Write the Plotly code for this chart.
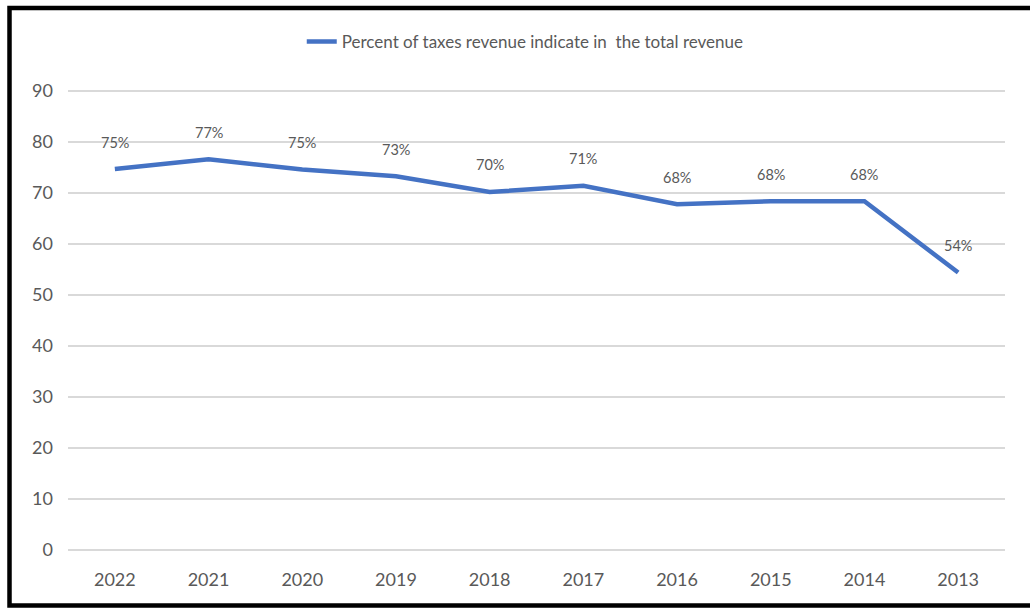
import plotly.graph_objects as go

# Share of tax revenue in total revenue, by year
years = ["2022", "2021", "2020", "2019", "2018", "2017", "2016", "2015", "2014", "2013"]
tax_share = [74.7, 76.6, 74.6, 73.3, 70.2, 71.4, 67.8, 68.4, 68.4, 54.4]
y_ticks = [0, 10, 20, 30, 40, 50, 60, 70, 80, 90]

series_name = "Percent of taxes revenue indicate in  the total revenue"
font_family = "Lato, 'Open Sans', sans-serif"
grey = "#595959"
blue = "#4472C4"

fig = go.Figure()
fig.add_trace(go.Scatter(
    x=years,
    y=tax_share,
    mode="lines",
    name=series_name,
    line=dict(color=blue, width=4.5),
    hoverinfo="skip",
))

# Value labels above each point (category axis: x given as index)
for i, v in enumerate(tax_share):
    fig.add_annotation(
        x=i, y=v, text=f"{round(v)}%", showarrow=False,
        yshift=27, font=dict(family=font_family, size=14.5, color=grey),
    )

W, H = 1030, 608
ml, mr, mt, mb = 68, 25, 90, 57
pw, ph = W - ml - mr, H - mt - mb


def px_x(px):
    return (px - ml) / pw


def px_y(py):
    return (H - mb - py) / ph


# Outer frame around the chart
fig.add_shape(
    type="rect", xref="paper", yref="paper",
    x0=px_x(9.5), x1=px_x(1045), y0=px_y(605.5), y1=px_y(8),
    line=dict(color="black", width=4.5), fillcolor="rgba(0,0,0,0)", layer="above",
)

fig.update_layout(
    width=W, height=H,
    margin=dict(l=ml, r=mr, t=mt, b=mb),
    paper_bgcolor="white",
    plot_bgcolor="white",
    font=dict(family=font_family, color=grey),
    showlegend=True,
    legend=dict(
        orientation="h", x=0.488, xanchor="center", y=px_y(42), yanchor="middle",
        font=dict(family=font_family, size=17, color=grey),
        bgcolor="rgba(0,0,0,0)",
    ),
    xaxis=dict(
        type="category", showgrid=False, zeroline=False, showline=False,
        tickfont=dict(family=font_family, size=18, color=grey),
        ticks="", range=[-0.5, len(years) - 0.5], ticklabelstandoff=16,
    ),
    yaxis=dict(
        range=[-0.2, 90.2], tickvals=y_ticks, showgrid=True, gridcolor="#d9d9d9",
        gridwidth=1.5, zeroline=False, showline=False, ticks="",
        tickfont=dict(family=font_family, size=18, color=grey),
        ticklabelstandoff=14,
    ),
)

fig.write_html("out.html")
